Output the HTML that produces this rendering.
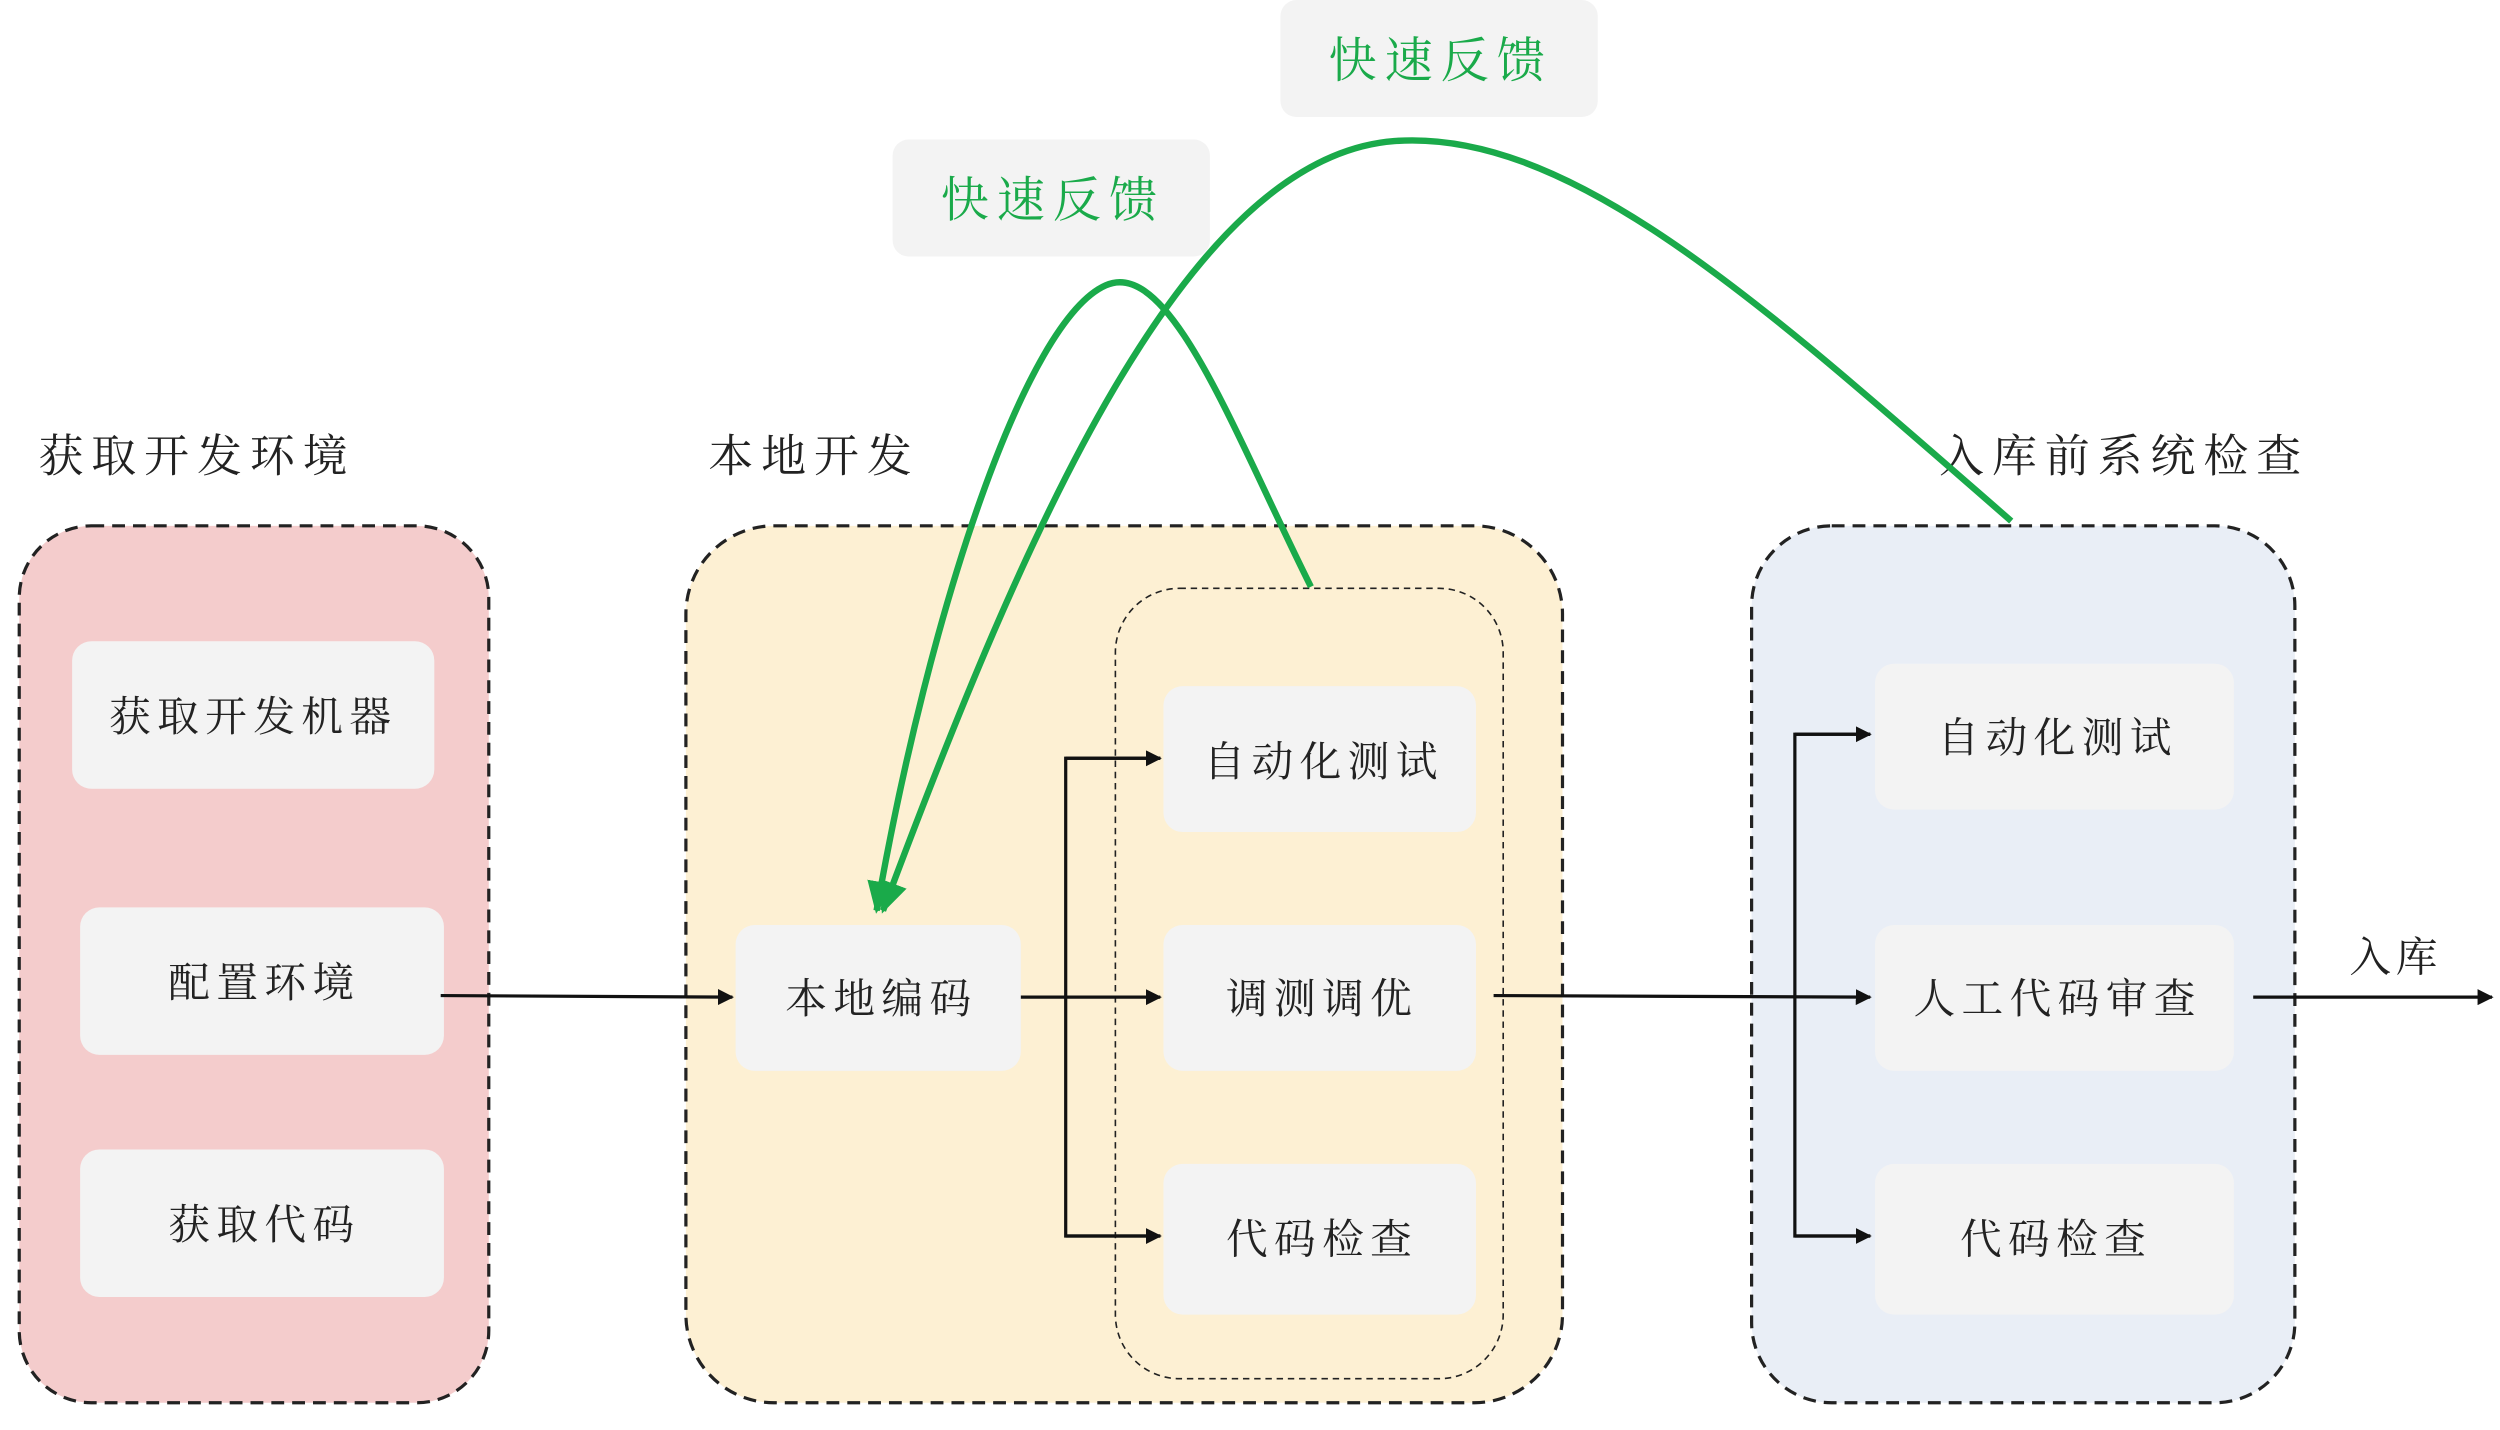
<!DOCTYPE html>
<html><head><meta charset="utf-8"><style>
html,body{margin:0;padding:0;background:#fff;width:2500px;height:1430px;overflow:hidden}
svg{display:block}
text{font-family:"Liberation Serif","Noto Serif CJK SC",serif;}
</style></head><body>
<svg width="2500" height="1430" viewBox="0 0 1560 892" preserveAspectRatio="none" xmlns="http://www.w3.org/2000/svg">
<defs>
<marker id="a" markerWidth="10" markerHeight="10" refX="9" refY="5" orient="auto" markerUnits="userSpaceOnUse"><path d="M0,0 L10,5 L0,10 z" fill="#111"/></marker>
<marker id="g" markerWidth="22" markerHeight="22" refX="18" refY="11" orient="auto" markerUnits="userSpaceOnUse"><path d="M0,2 L20,11 L0,20 z" fill="#1aaa4a"/></marker>
</defs>
<rect x="12" y="328" width="293" height="547" rx="45" fill="#f4cccc" stroke="#222" stroke-width="2" stroke-dasharray="8,5"/>
<rect x="428" y="328" width="547" height="547" rx="55" fill="#fdf0d3" stroke="#222" stroke-width="2" stroke-dasharray="8,5"/>
<rect x="696" y="367" width="242" height="493" rx="40" fill="none" stroke="#222" stroke-width="1" stroke-dasharray="4,3"/>
<rect x="1093" y="328" width="339" height="547" rx="50" fill="#e9eef6" stroke="#222" stroke-width="2" stroke-dasharray="8,5"/>
<g font-size="28" fill="#222" letter-spacing="5">
<text x="24" y="294">获取开发环境</text>
<text x="442" y="294">本地开发</text>
<text x="1210" y="294">入库前系统检查</text>
<text x="1466" y="606" font-size="26" letter-spacing="3">入库</text>
</g>
<g fill="#f3f3f3">
<rect x="45" y="400" width="226" height="92" rx="12"/>
<rect x="50" y="566" width="227" height="92" rx="12"/>
<rect x="50" y="717" width="227" height="92" rx="12"/>
<rect x="459" y="577" width="178" height="91" rx="12"/>
<rect x="726" y="428" width="195" height="91" rx="12"/>
<rect x="726" y="577" width="195" height="91" rx="12"/>
<rect x="726" y="726" width="195" height="94" rx="12"/>
<rect x="1170" y="414" width="224" height="91" rx="12"/>
<rect x="1170" y="577" width="224" height="91" rx="12"/>
<rect x="1170" y="726" width="224" height="94" rx="12"/>
<rect x="557" y="87" width="198" height="73" rx="10"/>
<rect x="799" y="0" width="198" height="73" rx="10"/>
</g>
<g font-size="26" fill="#222" text-anchor="middle" letter-spacing="4">
<text x="158" y="456">获取开发机器</text>
<text x="165" y="622">配置环境</text>
<text x="165" y="773">获取代码</text>
<text x="550" y="632">本地编码</text>
<text x="826" y="484">自动化测试</text>
<text x="825" y="632">调测调优</text>
<text x="825" y="782">代码检查</text>
<text x="1284" y="469">自动化测试</text>
<text x="1284" y="632">人工代码审查</text>
<text x="1283" y="782">代码检查</text>
</g>
<g font-size="30" fill="#1aaa4a" text-anchor="middle" letter-spacing="5">
<text x="657" y="135">快速反馈</text>
<text x="899" y="48">快速反馈</text>
</g>
<g stroke="#111" stroke-width="2" fill="none">
<line x1="275" y1="621" x2="457" y2="622" marker-end="url(#a)"/>
<line x1="637" y1="622" x2="724" y2="622" marker-end="url(#a)"/>
<polyline points="724,473 665,473 665,771 724,771"/>
<line x1="665" y1="473" x2="724" y2="473" marker-end="url(#a)"/>
<line x1="665" y1="771" x2="724" y2="771" marker-end="url(#a)"/>
<line x1="932" y1="621" x2="1167" y2="622" marker-end="url(#a)"/>
<polyline points="1167,458 1120,458 1120,771 1167,771"/>
<line x1="1120" y1="458" x2="1167" y2="458" marker-end="url(#a)"/>
<line x1="1120" y1="771" x2="1167" y2="771" marker-end="url(#a)"/>
<line x1="1406" y1="622" x2="1555" y2="622" marker-end="url(#a)"/>
</g>
<g stroke="#1aaa4a" stroke-width="4" fill="none">
<path d="M818,366 C770,270 730,160 690,178 C640,200 580,380 547,568" marker-end="url(#g)"/>
<path d="M1255,325 C1100,190 980,80 870,88 C740,98 640,330 551,568" marker-end="url(#g)"/>
</g>
</svg>
</body></html>
